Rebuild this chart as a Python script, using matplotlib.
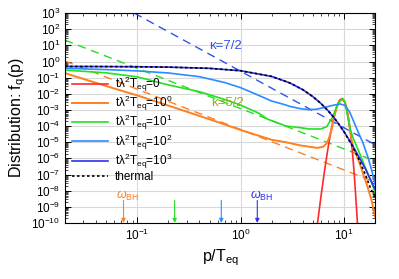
import numpy as np
import matplotlib
matplotlib.use('Agg')
import matplotlib.pyplot as plt
from matplotlib.patches import FancyArrowPatch
from matplotlib.ticker import LogLocator, NullFormatter

plt.rcParams['font.family'] = ['Liberation Sans', 'DejaVu Sans']
plt.rcParams['mathtext.fontset'] = 'custom'
plt.rcParams['mathtext.rm'] = 'Liberation Sans'
plt.rcParams['mathtext.it'] = 'Liberation Sans:italic'
plt.rcParams['mathtext.bf'] = 'Liberation Sans:bold'

# ---- data (p/T_eq, log10 f) ----
p_red = [5.55, 6, 6.5, 7, 7.5, 8, 8.5, 9, 9.5, 10, 10.5, 11, 11.5, 12, 12.5, 13, 13.5]
lf_red = [-10, -8.34, -6.74, -5.39, -4.28, -3.41, -2.8, -2.42, -2.3, -2.42, -2.8, -3.41,
          -4.28, -5.39, -6.74, -8.34, -10]

p_org = [0.02, 0.05, 0.1, 0.216, 0.374, 0.6, 1.0, 1.5, 2.0, 2.74, 3.8, 5.5, 6.3, 6.82, 7.2,
         7.6, 8.0, 8.5, 9.0, 9.6, 10.2, 10.7, 11.2, 11.8, 12.3, 12.9, 14, 15.2, 16.9, 18.5, 20]
lf_org = [-0.72, -1.52, -2.1, -2.8, -3.31, -3.75, -4.24, -4.6, -4.85, -5.0, -5.2, -5.35, -5.28,
          -5.07, -4.7, -4.2, -3.5, -2.85, -2.5, -2.34, -2.5, -3.0, -3.8, -4.8, -5.35, -5.62,
          -6.2, -6.9, -7.75, -8.6, -9.6]

p_grn = [0.02, 0.05, 0.1, 0.2, 0.4, 0.7, 1.0, 1.5, 1.82, 2.77, 3.8, 4.6, 5.97, 6.8, 7.8, 8.5,
         9.2, 9.7, 10.3, 10.8, 11.5, 12.3, 14, 15.7, 18, 20]
lf_grn = [-0.53, -0.7, -0.95, -1.45, -1.87, -2.35, -2.7, -3.2, -3.57, -4.0, -4.1, -4.18, -4.18,
          -4.04, -3.42, -2.8, -2.4, -2.28, -2.55, -3.31, -4.2, -4.76, -5.6, -6.41, -7.3, -8.1]

p_lbl = [0.02, 0.05, 0.1, 0.2, 0.4, 0.7, 1.0, 1.5, 2.0, 2.6, 3.0, 3.8, 4.6, 5.5, 6.7, 8.0, 9.2,
         10.2, 11.3, 12.6, 14, 15.2, 17, 18.5, 20]
lf_lbl = [-0.42, -0.5, -0.58, -0.71, -0.94, -1.3, -1.62, -2.1, -2.45, -2.65, -2.78, -2.92, -2.98,
          -2.95, -2.82, -2.7, -2.63, -2.72, -3.1, -3.8, -4.5, -5.0, -5.9, -6.7, -7.6]

p_th = [0.02, 0.05, 0.1, 0.2, 0.5, 1, 2, 3, 4, 5, 6, 7, 8, 9, 10, 12, 14, 16, 18, 20]
f_th = [0.495, 0.487, 0.475, 0.45, 0.378, 0.269, 0.119, 0.047, 0.018, 0.0067, 0.0025, 9.1e-4,
        3.4e-4, 1.2e-4, 4.5e-5, 6.1e-6, 8.3e-7, 1.1e-7, 1.5e-8, 4e-9]
f_dbl = [0.495, 0.487, 0.475, 0.45, 0.378, 0.269, 0.119, 0.047, 0.018, 0.0067, 0.0025, 9.1e-4,
         3.4e-4, 1.2e-4, 4.6e-5, 7e-6, 1.2e-6, 2.5e-7, 5e-8, 1.2e-8]

# power-law guides (end points)
p_k72 = [0.0935, 20]
f_k72 = [1e3, 7e-6]
p_k52g = [0.02, 20]
f_k52g = [21, 6.9e-7]
p_k52o = [0.02, 20]
f_k52o = [1.07, 3.4e-8]

labels = [r'$\mathrm{t\lambda^2T_{eq}}$=0', r'$\mathrm{t\lambda^2T_{eq}}$=$10^0$',
          r'$\mathrm{t\lambda^2T_{eq}}$=$10^1$', r'$\mathrm{t\lambda^2T_{eq}}$=$10^2$',
          r'$\mathrm{t\lambda^2T_{eq}}$=$10^3$', 'thermal']

# omega_BH arrows
p_arrows = [0.0736, 0.23, 0.65, 1.45]

c_red = '#ff2a2a'
c_org = '#ff8020'
c_grn = '#22e022'
c_lbl = '#2a8cff'
c_dbl = '#3030f0'

fig = plt.figure(figsize=(3.99, 2.79), dpi=100)
ax = fig.add_axes([0.163, 0.201, 0.777, 0.752])

ax.plot(p_k72, f_k72, color='#2f55e8', lw=1.0, dashes=(6, 4))
ax.plot(p_k52g, f_k52g, color=c_grn, lw=1.0, dashes=(6, 4))
ax.plot(p_k52o, f_k52o, color=c_org, lw=1.0, dashes=(6, 4))

ax.plot(p_red, 10 ** np.array(lf_red), color=c_red, lw=1.2, label=labels[0])
ax.plot(p_org, 10 ** np.array(lf_org), color=c_org, lw=1.4, label=labels[1])
ax.plot(p_grn, 10 ** np.array(lf_grn), color=c_grn, lw=1.2, label=labels[2])
ax.plot(p_lbl, 10 ** np.array(lf_lbl), color=c_lbl, lw=1.2, label=labels[3])
ax.plot(p_th, f_dbl, color=c_dbl, lw=1.2, label=labels[4])
ax.plot(p_th, f_th, color='black', lw=1.2, ls=(0, (1.5, 1.5)), label=labels[5])

for p, c in zip(p_arrows, [c_org, c_grn, c_lbl, c_dbl]):
    arr = FancyArrowPatch((p, 2.5e-9), (p, 1e-10), arrowstyle='-|>', color=c, lw=0.8,
                          mutation_scale=6, shrinkA=0, shrinkB=0)
    ax.add_patch(arr)
ax.text(0.081, 5e-9, r'$\omega_{\rm BH}$', color=c_org, fontsize=9, ha='center', va='center')
ax.text(1.6, 5e-9, r'$\omega_{\rm BH}$', color=c_dbl, fontsize=9, ha='center', va='center')

ax.text(0.72, 9.1, 'κ=7/2', color='#2f55e8', fontsize=9.5, ha='center', va='center')
ax.text(0.75, 2.7e-3, 'κ=5/2', color='#9aaa20', fontsize=9.5, ha='center', va='center')

ax.set_xscale('log')
ax.set_yscale('log')
ax.set_xlim(0.02, 20)
ax.set_ylim(1e-10, 1e3)
ax.yaxis.set_major_locator(LogLocator(base=10, numticks=20))
ax.yaxis.set_minor_locator(LogLocator(base=10, subs=np.arange(2, 10), numticks=20))
ax.yaxis.set_minor_formatter(NullFormatter())
ax.xaxis.set_minor_formatter(NullFormatter())
ax.tick_params(which='both', direction='in', top=True, right=True, labelsize=8.5)
ax.tick_params(which='major', length=4, width=0.7)
ax.tick_params(which='minor', length=2, width=0.5)
ax.grid(True, which='major', color='#d8d8d8', lw=0.8)
ax.set_axisbelow(True)

ax.set_xlabel(r'p/T$_\mathrm{eq}$', fontsize=11.5, labelpad=3)
ax.set_ylabel(r'Distribution: f$_\mathrm{q}$(p)', fontsize=11.5, labelpad=2)

ax.legend(loc='upper left', bbox_to_anchor=(0.0, 0.74), frameon=False, fontsize=8.5,
          handlelength=3.0, labelspacing=0.0, borderaxespad=0.2, handletextpad=0.6)

fig.savefig('out.png', dpi=100)
